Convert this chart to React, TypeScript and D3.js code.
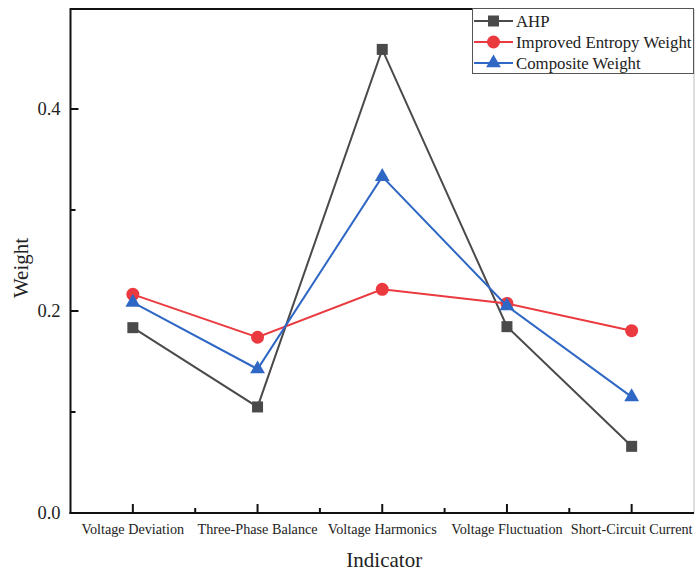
import React from "react";
import * as d3 from "d3";

const categories = [
  "Voltage Deviation",
  "Three-Phase Balance",
  "Voltage Harmonics",
  "Voltage Fluctuation",
  "Short-Circuit Current",
];
const ahp = [0.1835, 0.105, 0.459, 0.1845, 0.066];
const entropy = [0.2165, 0.174, 0.2215, 0.2075, 0.1805];
const composite = [0.2085, 0.1425, 0.333, 0.205, 0.115];
const yMajorTicks = [0, 0.2, 0.4];
const yMinorTicks = [0.1, 0.3];
const seriesNames = ["AHP", "Improved Entropy Weight", "Composite Weight"];
const seriesColors = ["#4a4a4a", "#ea3a3f", "#2f67c5"];

const W = 695;
const H = 576;
const left = 70.5;
const right = 694;
const top = 9;
const bottom = 513;
const font = "'Liberation Serif', 'Times New Roman', serif";

export default function App() {
  const x = d3.scalePoint<string>().domain(categories).range([left, right]).padding(0.5);
  const y = d3.scaleLinear().domain([0, 0.5]).range([bottom, top - 1]);
  const step = x.step();
  const line = d3
    .line<number>()
    .x((_, i) => x(categories[i]) as number)
    .y((d) => y(d));
  const seriesData = [ahp, entropy, composite];

  const marker = (k: number, cx: number, cy: number, key: string) => {
    const c = seriesColors[k];
    if (k === 0) return <rect key={key} x={cx - 5.5} y={cy - 5.5} width={11} height={11} fill={c} />;
    if (k === 1) return <circle key={key} cx={cx} cy={cy} r={6.5} fill={c} />;
    const tri = d3.symbol().type(d3.symbolTriangle).size(95)();
    return <path key={key} d={tri as string} transform={`translate(${cx},${cy})`} fill={c} />;
  };

  const minorX = categories.slice(0, -1).map((c) => (x(c) as number) + step / 2);

  return (
    <svg width={W} height={H} style={{ position: "absolute", left: 0, top: 0, background: "#fff" }}>
      {/* frame */}
      <line x1={left} x2={right} y1={top} y2={top} stroke="#111" strokeWidth={2} />
      <line x1={right} x2={right} y1={top} y2={bottom} stroke="#bbb" strokeWidth={1} />
      <line x1={left} x2={left} y1={top - 1} y2={bottom + 1} stroke="#111" strokeWidth={2} />
      <line x1={left - 1} x2={right} y1={bottom} y2={bottom} stroke="#111" strokeWidth={2} />

      {/* y ticks */}
      {yMajorTicks.map((t) => (
        <g key={"ym" + t}>
          <line x1={left} x2={left + 8} y1={y(t)} y2={y(t)} stroke="#111" strokeWidth={2} />
          <text x={left - 10} y={y(t)} dy="0.35em" textAnchor="end" fontFamily={font} fontSize={18.5} fill="#222">
            {t.toFixed(1)}
          </text>
        </g>
      ))}
      {yMinorTicks.map((t) => (
        <line key={"yn" + t} x1={left} x2={left + 5} y1={y(t)} y2={y(t)} stroke="#111" strokeWidth={2} />
      ))}

      {/* x ticks */}
      {categories.map((c) => (
        <g key={"xm" + c}>
          <line x1={x(c)} x2={x(c)} y1={bottom} y2={bottom - 9} stroke="#111" strokeWidth={2} />
          <text x={x(c)} y={534} textAnchor="middle" fontFamily={font} fontSize={14.2} fill="#222">
            {c}
          </text>
        </g>
      ))}
      {minorX.map((mx, i) => (
        <line key={"xn" + i} x1={mx} x2={mx} y1={bottom} y2={bottom - 5} stroke="#111" strokeWidth={2} />
      ))}

      {/* axis titles */}
      <text x={(left + right) / 2 + 2} y={567} textAnchor="middle" fontFamily={font} fontSize={21} fill="#222">
        Indicator
      </text>
      <text
        transform={`translate(28,${(top + bottom) / 2 + 7}) rotate(-90)`}
        textAnchor="middle"
        fontFamily={font}
        fontSize={21}
        fill="#222"
      >
        Weight
      </text>

      {/* series */}
      {seriesData.map((s, k) => (
        <g key={"s" + k}>
          <path d={line(s) as string} fill="none" stroke={seriesColors[k]} strokeWidth={2} />
          {s.map((v, i) => marker(k, x(categories[i]) as number, y(v), `m${k}-${i}`))}
        </g>
      ))}

      {/* legend */}
      <rect x={472.5} y={8.5} width={221} height={65} fill="#fff" stroke="#555" strokeWidth={1} />
      {seriesNames.map((n, k) => {
        const ly = 21 + k * 21;
        return (
          <g key={"l" + k}>
            <line x1={474} x2={513} y1={ly} y2={ly} stroke={seriesColors[k]} strokeWidth={2} />
            {marker(k, 493.5, ly, "lm" + k)}
            <text x={516} y={ly} dy="0.33em" fontFamily={font} fontSize={16.8} fill="#222">
              {n}
            </text>
          </g>
        );
      })}
    </svg>
  );
}
